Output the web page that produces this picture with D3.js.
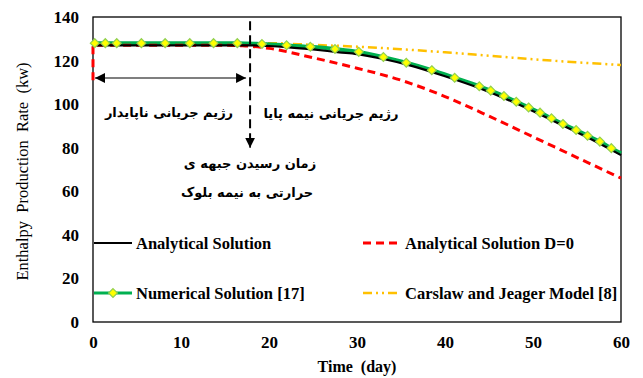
<!DOCTYPE html>
<html>
<head>
<meta charset="utf-8">
<script src="https://cdn.jsdelivr.net/npm/d3@7"></script>
<style>
  body { margin: 0; background: #fff; }
  text { font-family: "Liberation Serif", "Times New Roman", serif; }
</style>
</head>
<body>
<div id="chart"></div>
<script>
// series (day, kW)
var anaDays = [0, 5, 10, 15, 18, 20, 22, 25, 28, 30, 33, 36, 40, 44, 48, 52, 56, 60];
var anaVals = [127, 127, 127, 127, 127, 126.7, 126.2, 125.1, 123.8, 123.0, 120.7, 117.8, 112.8, 107.2, 100.5, 92.9, 85.1, 76.6];

var numDays = [0.2, 1.4, 2.7, 5.5, 8.2, 11.0, 13.7, 16.4, 19.2, 22.0, 24.7, 27.5, 30.2, 33.0, 35.6, 38.5, 41.1, 43.9, 45.2, 46.7, 48.1, 49.5, 50.8, 52.1, 53.4, 54.9, 56.2, 57.6, 58.9, 60];
var numVals = [128, 128, 128, 128, 128, 128, 128, 128, 127.6, 127.0, 126.3, 125.3, 124.0, 121.6, 119.0, 115.6, 112.1, 108.2, 106.2, 103.7, 101.1, 98.5, 96.1, 93.5, 90.9, 88.1, 85.5, 82.8, 79.8, 77.4];

var redDays = [0, 0, 5, 10, 15, 17, 20, 25, 30, 35, 40, 45, 50, 55, 60];
var redVals = [111, 127, 127, 127, 127, 126.8, 125.6, 121.3, 116.5, 111, 103.5, 94.5, 85, 75.5, 66];

var cjDays = [0, 10, 20, 25, 30, 35, 40, 45, 50, 55, 60];
var cjVals = [128, 128, 128, 127.2, 126.4, 125.2, 123.8, 122.2, 120.6, 119.2, 118];

var xTicks = [0, 10, 20, 30, 40, 50, 60];
var yTicks = [0, 20, 40, 60, 80, 100, 120, 140];

var legendNames = ["Analytical Solution", "Analytical Solution D=0", "Numerical Solution [17]", "Carslaw and Jeager Model [8]"];

var width = 643, height = 378;
var pL = 93, pT = 17, pR = 621, pB = 322;

var svg = d3.select("#chart").append("svg")
    .attr("width", width)
    .attr("height", height);

var x = d3.scaleLinear().domain([0, 60]).range([pL, pR]);
var y = d3.scaleLinear().domain([0, 140]).range([pB, pT]);

// axes, labels only (no tick marks in the original)
svg.append("g")
    .attr("transform", "translate(0," + pB + ")")
    .call(d3.axisBottom(x).tickValues(xTicks).tickSize(0).tickPadding(14).tickFormat(d3.format("d")));
svg.append("g")
    .attr("transform", "translate(" + pL + ",0)")
    .call(d3.axisLeft(y).tickValues(yTicks).tickSize(0).tickPadding(14).tickFormat(d3.format("d")));
svg.selectAll(".domain").remove();
svg.selectAll(".tick text")
    .attr("font-family", "Liberation Serif")
    .attr("font-weight", "bold")
    .attr("font-size", "17px")
    .attr("fill", "#000");

svg.append("text")
    .attr("x", (pL + pR) / 2)
    .attr("y", 372)
    .attr("text-anchor", "middle")
    .attr("font-weight", "bold")
    .attr("font-size", "16px")
    .style("white-space", "pre")
    .text("Time  (day)");

svg.append("text")
    .attr("transform", "translate(28," + ((pT + pB) / 2 + 2) + ") rotate(-90)")
    .attr("text-anchor", "middle")
    .attr("font-size", "16.5px")
    .style("white-space", "pre")
    .text("Enthalpy  Production  Rate  (kw)");

// plot frame
svg.append("rect")
    .attr("x", pL).attr("y", pT)
    .attr("width", pR - pL).attr("height", pB - pT)
    .attr("fill", "none").attr("stroke", "#000").attr("stroke-width", 1.3);

function pts(days, vals) {
    return days.map(function(d, i) { return [d, vals[i]]; });
}

var line = d3.line()
    .x(function(d) { return x(d[0]); })
    .y(function(d) { return y(d[1]); })
    .curve(d3.curveMonotoneX);

// Carslaw & Jaeger
svg.append("path")
    .attr("d", line(pts(cjDays, cjVals)))
    .attr("fill", "none")
    .attr("stroke", "#FFC000")
    .attr("stroke-width", 2.5)
    .attr("stroke-dasharray", "9,4,2,4,2,4");

// numerical solution (green + yellow diamonds)
var numData = pts(numDays, numVals);
svg.append("path")
    .attr("d", line(numData))
    .attr("fill", "none")
    .attr("stroke", "#00B050")
    .attr("stroke-width", 4);

// analytical D=0, vertical jump at day 0 then the curve
var redData = pts(redDays, redVals);
var redRest = line(redData.slice(1));
svg.append("path")
    .attr("d", "M" + x(redData[0][0]) + "," + y(redData[0][1]) + "L" + redRest.slice(1))
    .attr("fill", "none")
    .attr("stroke", "#FF0000")
    .attr("stroke-width", 3)
    .attr("stroke-dasharray", "8,5");

// analytical solution
svg.append("path")
    .attr("d", line(pts(anaDays, anaVals)))
    .attr("fill", "none")
    .attr("stroke", "#000")
    .attr("stroke-width", 2.2);

var diamond = d3.symbol().type(d3.symbolDiamond2).size(50);
svg.selectAll(".mk").data(numData.slice(0, numData.length - 1)).enter()
    .append("path")
    .attr("class", "mk")
    .attr("d", diamond)
    .attr("transform", function(d) { return "translate(" + x(d[0]) + "," + y(d[1]) + ")"; })
    .attr("fill", "#FFFF00")
    .attr("stroke", "#92D050")
    .attr("stroke-width", 1.2);

// annotations
svg.append("defs").append("marker")
    .attr("id", "ah")
    .attr("viewBox", "0 0 10 10")
    .attr("refX", 10).attr("refY", 5)
    .attr("markerWidth", 10).attr("markerHeight", 10)
    .attr("markerUnits", "userSpaceOnUse")
    .attr("orient", "auto-start-reverse")
    .append("path")
    .attr("d", "M0,0L10,5L0,10z")
    .attr("fill", "#000");

var tFront = 17.85;
svg.append("line")
    .attr("x1", x(tFront)).attr("x2", x(tFront))
    .attr("y1", y(138)).attr("y2", y(84))
    .attr("stroke", "#000").attr("stroke-width", 2)
    .attr("stroke-dasharray", "9,5");
svg.append("line")
    .attr("x1", x(tFront)).attr("x2", x(tFront))
    .attr("y1", y(84)).attr("y2", y(80))
    .attr("stroke", "#000").attr("stroke-width", 1.5)
    .attr("marker-end", "url(#ah)");

svg.append("line")
    .attr("x1", x(0) + 2).attr("x2", x(tFront) - 4)
    .attr("y1", y(112)).attr("y2", y(112))
    .attr("stroke", "#000").attr("stroke-width", 1.2)
    .attr("marker-start", "url(#ah)")
    .attr("marker-end", "url(#ah)");

var notes = [
    {t: "رژیم جریانی ناپایدار", cx: 169, cy: 112},
    {t: "رژیم جریانی نیمه پایا", cx: 331, cy: 113},
    {t: "زمان رسیدن جبهه ی", cx: 250, cy: 163},
    {t: "حرارتی به نیمه بلوک", cx: 247, cy: 192}
];
svg.selectAll(".note").data(notes).enter()
    .append("text")
    .attr("class", "note")
    .attr("x", function(d) { return d.cx; })
    .attr("y", function(d) { return d.cy; })
    .attr("dy", "0.35em")
    .attr("text-anchor", "middle")
    .attr("direction", "rtl")
    .style("font-family", "DejaVu Sans")
    .attr("font-weight", "bold")
    .attr("font-size", "13px")
    .text(function(d) { return d.t; });

// legend
var leg = [
    {name: legendNames[0], lx: 94, ly: 243, color: "#000", w: 2.2, dash: null, mark: false},
    {name: legendNames[1], lx: 363, ly: 243, color: "#FF0000", w: 3, dash: "8,5", mark: false},
    {name: legendNames[2], lx: 94, ly: 293, color: "#00B050", w: 3, dash: null, mark: true},
    {name: legendNames[3], lx: 363, ly: 293, color: "#FFC000", w: 2.5, dash: "9,4,2,4,2,4", mark: false}
];
var lg = svg.selectAll(".leg").data(leg).enter().append("g").attr("class", "leg");
lg.append("line")
    .attr("x1", function(d) { return d.lx; })
    .attr("x2", function(d) { return d.lx + 38; })
    .attr("y1", function(d) { return d.ly; })
    .attr("y2", function(d) { return d.ly; })
    .attr("stroke", function(d) { return d.color; })
    .attr("stroke-width", function(d) { return d.w; })
    .attr("stroke-dasharray", function(d) { return d.dash; });
lg.filter(function(d) { return d.mark; }).append("path")
    .attr("d", diamond)
    .attr("transform", function(d) { return "translate(" + (d.lx + 19) + "," + d.ly + ")"; })
    .attr("fill", "#FFFF00")
    .attr("stroke", "#92D050")
    .attr("stroke-width", 1.2);
lg.append("text")
    .attr("x", function(d) { return d.lx + 42; })
    .attr("y", function(d) { return d.ly; })
    .attr("dy", "0.35em")
    .attr("font-weight", "bold")
    .attr("font-size", "16.5px")
    .text(function(d) { return d.name; });
</script>
</body>
</html>
